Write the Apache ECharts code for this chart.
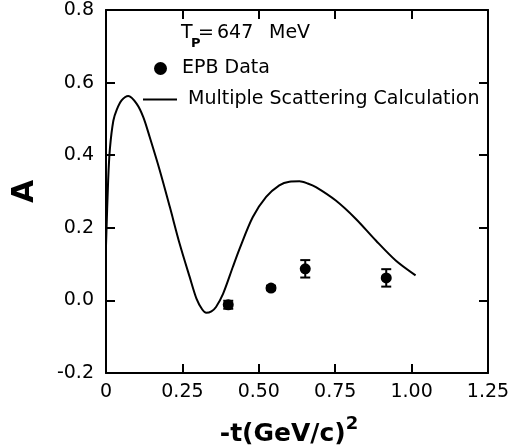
<!DOCTYPE html>
<html><head><meta charset="utf-8">
<script src="https://cdn.jsdelivr.net/npm/echarts@6/dist/echarts.min.js"></script>
<style>html,body{margin:0;padding:0;background:#fff}#c{width:515px;height:446px}</style>
</head><body><div id="c"></div>
<script>
// Axis ranges / ticks
const xMin = 0, xMax = 1.25, xStep = 0.25;
const yMin = -0.2, yMax = 0.8, yStep = 0.2;
// EPB data points: -t, A, error
const dataT = [0.40, 0.54, 0.652, 0.917];
const dataA = [-0.012, 0.034, 0.087, 0.062];
const dataErr = [0.011, 0.006, 0.024, 0.024];
// Multiple scattering calculation curve
const calcT = [0, 0.007, 0.013, 0.024, 0.035, 0.051, 0.073, 0.1, 0.122, 0.143, 0.176, 0.209, 0.241, 0.274, 0.296, 0.315, 0.328, 0.345, 0.36, 0.383, 0.415, 0.437, 0.48, 0.524, 0.567, 0.6, 0.633, 0.66, 0.687, 0.752, 0.817, 0.883, 0.948, 1.013];
const calcA = [0.15, 0.33, 0.42, 0.495, 0.525, 0.551, 0.563, 0.542, 0.505, 0.45, 0.358, 0.257, 0.156, 0.064, 0.005, -0.025, -0.034, -0.03, -0.018, 0.018, 0.092, 0.142, 0.229, 0.285, 0.317, 0.327, 0.328, 0.322, 0.312, 0.275, 0.225, 0.165, 0.11, 0.069];

const FONT = '"DejaVu Sans", sans-serif';
const chart = echarts.init(document.getElementById('c'), null, {renderer: 'canvas'});

const axisLine = {show: true, onZero: false, lineStyle: {color: '#000', width: 2}};
const tickIn = {show: true, inside: true, length: 9, lineStyle: {color: '#000', width: 2}};

chart.setOption({
  animation: false,
  backgroundColor: '#fff',
  grid: {left: 106, right: 27, top: 10, bottom: 73, outerBoundsMode: 'none', containLabel: false},
  graphic: [
    {type: 'text', left: 181, top: 24, style: {text: 'T', font: '19px ' + FONT, fill: '#000'}},
    {type: 'text', left: 191, top: 37, style: {text: 'P', font: 'bold 13px ' + FONT, fill: '#000'}},
    {type: 'text', left: 198, top: 24, style: {text: '=', font: '19px ' + FONT, fill: '#000'}},
    {type: 'text', left: 217, top: 24, style: {text: '647', font: '19px ' + FONT, fill: '#000'}},
    {type: 'text', left: 269, top: 24, style: {text: 'MeV', font: '19px ' + FONT, fill: '#000'}}
  ],
  legend: [
    {
      left: 154, top: 59, orient: 'vertical', padding: 0,
      data: [{name: 'EPB Data', icon: 'circle'}],
      itemWidth: 13, itemHeight: 13,
      textStyle: {fontSize: 19, fontFamily: FONT, color: '#000', padding: [0, 0, 0, 10]}
    },
    {
      left: 143, top: 90, orient: 'vertical', padding: 0,
      data: [{name: 'Multiple Scattering Calculation', icon: 'rect'}],
      itemWidth: 34, itemHeight: 2,
      textStyle: {fontSize: 19, fontFamily: FONT, color: '#000', padding: [0, 0, 0, 6]}
    }
  ],
  xAxis: [
    {
      type: 'value', min: xMin, max: xMax, interval: xStep,
      axisLine: axisLine, axisTick: tickIn, splitLine: {show: false},
      axisLabel: {
        margin: 10, fontSize: 19, fontFamily: FONT, color: '#000',
        formatter: v => (v === 0 ? '0' : v.toFixed(2))
      },
      name: '{b|-t(GeV/c)}{s|2}', nameLocation: 'middle', nameGap: 42,
      nameTextStyle: {
        rich: {
          b: {fontSize: 25, fontWeight: 'bold', fontFamily: FONT, color: '#000'},
          s: {fontSize: 18, fontWeight: 'bold', fontFamily: FONT, color: '#000', padding: [0, 16, 20, 0]}
        }
      }
    },
    {
      type: 'value', position: 'top', min: xMin, max: xMax, interval: xStep,
      axisLine: axisLine, axisTick: tickIn, axisLabel: {show: false}, splitLine: {show: false}
    }
  ],
  yAxis: [
    {
      type: 'value', min: yMin, max: yMax, interval: yStep,
      axisLine: axisLine, axisTick: tickIn, splitLine: {show: false},
      axisLabel: {
        margin: 12, fontSize: 19, fontFamily: FONT, color: '#000',
        formatter: v => v.toFixed(1)
      },
      name: 'A', nameLocation: 'middle', nameGap: 66, nameRotate: 90,
      nameTextStyle: {fontSize: 30, fontWeight: 'bold', fontFamily: FONT, color: '#000'}
    },
    {
      type: 'value', position: 'right', min: yMin, max: yMax, interval: yStep,
      axisLine: axisLine, axisTick: tickIn, axisLabel: {show: false}, splitLine: {show: false}
    }
  ],
  series: [
    {
      name: 'Multiple Scattering Calculation', type: 'line',
      data: calcT.map((t, i) => [t, calcA[i]]),
      symbol: 'none', smooth: 0.3,
      lineStyle: {color: '#000', width: 2},
      itemStyle: {color: '#000'}
    },
    {
      name: 'EPB Data', type: 'custom',
      data: dataT.map((t, i) => [t, dataA[i], dataErr[i]]),
      renderItem: (params, api) => {
        const x = api.value(0), y = api.value(1), e = api.value(2);
        const hi = api.coord([x, y + e]);
        const lo = api.coord([x, y - e]);
        const cap = 5;
        const st = {stroke: '#000', lineWidth: 2};
        return {
          type: 'group',
          children: [
            {type: 'line', shape: {x1: hi[0], y1: hi[1], x2: lo[0], y2: lo[1]}, style: st},
            {type: 'line', shape: {x1: hi[0] - cap, y1: hi[1], x2: hi[0] + cap, y2: hi[1]}, style: st},
            {type: 'line', shape: {x1: lo[0] - cap, y1: lo[1], x2: lo[0] + cap, y2: lo[1]}, style: st}
          ]
        };
      },
      encode: {x: 0, y: 1},
      itemStyle: {color: '#000'},
      z: 3
    },
    {
      name: 'EPB Data', type: 'scatter',
      data: dataT.map((t, i) => [t, dataA[i]]),
      symbol: 'circle', symbolSize: 11,
      itemStyle: {color: '#000', opacity: 1},
      z: 4
    }
  ]
});
</script>
</body></html>
